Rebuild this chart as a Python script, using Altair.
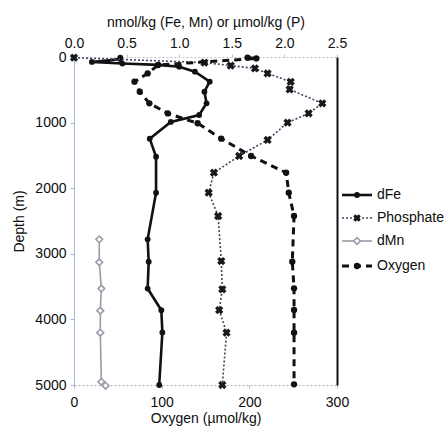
import altair as alt
import pandas as pd

# ---- data ----
fe_depth = [10, 30, 75, 100, 120, 148, 224, 376, 529, 706, 884, 990, 1245, 1520, 2068, 2780, 3120, 3530, 3860, 4200, 5000]
fe_val = [0.44, 0.44, 0.17, 0.46, 0.80, 1.00, 1.15, 1.29, 1.24, 1.26, 1.19, 0.92, 0.72, 0.78, 0.78, 0.70, 0.71, 0.70, 0.83, 0.84, 0.81]

p_depth = [10, 85, 130, 175, 250, 378, 495, 706, 859, 1001, 1265, 1509, 1764, 2068, 2424, 3110, 3541, 3857, 4202, 5000]
p_val = [0.00, 1.24, 1.49, 1.72, 1.84, 2.06, 2.05, 2.36, 2.23, 2.03, 1.84, 1.57, 1.33, 1.28, 1.37, 1.40, 1.41, 1.38, 1.45, 1.41]

mn_depth = [2780, 3130, 3530, 3867, 4202, 4950, 5010]
mn_val = [0.24, 0.24, 0.26, 0.25, 0.25, 0.26, 0.30]

o2_depth = [10, 22, 122, 250, 376, 530, 706, 860, 1010, 1245, 1509, 1764, 2068, 2424, 3120, 3526, 3857, 4202, 4990]
o2_val = [198, 208, 96, 84, 69, 75, 86, 107, 141, 168, 202, 242, 245, 251, 249, 251, 251, 251, 251]

top_ticks = [0, 0.5, 1.0, 1.5, 2.0, 2.5]
bottom_ticks = [0, 100, 200, 300]
depth_ticks = [0, 1000, 2000, 3000, 4000, 5000]

legend_labels = ["dFe", "Phosphate", "dMn", "Oxygen"]


def frame(depth, val):
    return pd.DataFrame({"depth": depth, "val": val, "seq": list(range(len(depth)))})


W, H = 263, 328
FONT = "Liberation Sans"
TXT = "#0d0d0d"
FS = 14

common_axis = dict(labelFont=FONT, titleFont=FONT, labelFontSize=FS, titleFontSize=FS,
                   labelColor=TXT, titleColor=TXT, titleFontWeight="normal", grid=False,
                   labelFlush=False)

xtop = alt.X(
    "val:Q",
    scale=alt.Scale(domain=[0, 2.5], nice=False, zero=False),
    axis=alt.Axis(
        orient="top", values=top_ticks, format=".1f",
        title="nmol/kg (Fe, Mn) or µmol/kg (P)",
        domainColor="#c0c0c0", domainDash=[2, 2], tickColor="#c0c0c0",
        tickSize=3, labelPadding=4, titlePadding=7, **common_axis,
    ),
)
yleft = alt.Y(
    "depth:Q",
    scale=alt.Scale(domain=[0, 5000], reverse=True, nice=False, zero=False),
    axis=alt.Axis(
        orient="left", values=depth_ticks, format="d", title="Depth (m)",
        domainColor="#a9b8d6", tickColor="#a9b8d6", tickSize=4,
        labelPadding=4, titlePadding=8, **common_axis,
    ),
)

fe = frame(fe_depth, fe_val)
ph = frame(p_depth, p_val)
mn = frame(mn_depth, mn_val)
o2 = frame(o2_depth, o2_val)

enc = dict(x=xtop, y=yleft, order="seq:Q")

fe_line = alt.Chart(fe).mark_line(color="#111111", strokeWidth=2.6).encode(**enc)
fe_pts = alt.Chart(fe).mark_point(shape="circle", filled=True, color="#111111", size=34, opacity=1).encode(x=xtop, y=yleft)

ph_line = alt.Chart(ph).mark_line(color="#3b4863", strokeWidth=1.6, strokeDash=[2, 2]).encode(**enc)
ph_pts = alt.Chart(ph).mark_point(shape="cross", angle=45, filled=True, color="#1a1a1a", size=70, opacity=1).encode(x=xtop, y=yleft)

mn_line = alt.Chart(mn).mark_line(color="#9a9ca8", strokeWidth=1.6).encode(**enc)
mn_pts = alt.Chart(mn).mark_point(shape="diamond", filled=True, fill="white", stroke="#9a9ca8", strokeWidth=1.6, size=45, opacity=1).encode(x=xtop, y=yleft)

nmol = alt.layer(fe_line, fe_pts, ph_line, ph_pts, mn_line, mn_pts)

xbot = alt.X(
    "val:Q",
    scale=alt.Scale(domain=[0, 300], nice=False, zero=False),
    axis=alt.Axis(
        orient="bottom", values=bottom_ticks, title="Oxygen (µmol/kg)",
        domainColor="#b0b0b0", domainDash=[2, 2], tickColor="#b0b0b0",
        tickSize=3, labelPadding=7, titlePadding=2, **common_axis,
    ),
)
yright = alt.Y(
    "depth:Q",
    scale=alt.Scale(domain=[0, 5000], reverse=True, nice=False, zero=False),
    axis=alt.Axis(orient="right", labels=False, ticks=False, title=None, grid=False,
                  domainColor="#111111", domainWidth=2),
)
o2_line = alt.Chart(o2).mark_line(color="#111111", strokeWidth=3, strokeDash=[7, 5]).encode(x=xbot, y=yright, order="seq:Q")
o2_pts = alt.Chart(o2).mark_point(shape="circle", filled=True, color="#111111", size=40, opacity=1).encode(x=xbot, y=yright)
oxy = alt.layer(o2_line, o2_pts)

# ---- legend (drawn beside the plot) ----
one = pd.DataFrame({"k": [0]})
LX0, LX1, LXM, LXT = 268, 298, 283, 303
LY = [138, 161, 184, 209]
styles = [
    (dict(color="#111111", strokeWidth=2.6), dict(shape="circle", filled=True, color="#111111", size=34)),
    (dict(color="#3b4863", strokeWidth=1.6, strokeDash=[2, 2]), dict(shape="cross", angle=45, filled=True, color="#1a1a1a", size=60)),
    (dict(color="#9a9ca8", strokeWidth=1.6), dict(shape="diamond", filled=True, fill="white", stroke="#9a9ca8", strokeWidth=1.6, size=45)),
    (dict(color="#111111", strokeWidth=3, strokeDash=[7, 5]), dict(shape="circle", filled=True, color="#111111", size=40)),
]
legend_layers = []
for label, ly, (ls, ps) in zip(legend_labels, LY, styles):
    legend_layers.append(alt.Chart(one).mark_rule(**ls).encode(
        x=alt.value(LX0), x2=alt.value(LX1), y=alt.value(ly)))
    legend_layers.append(alt.Chart(one).mark_point(opacity=1, **ps).encode(
        x=alt.value(LXM), y=alt.value(ly)))
    legend_layers.append(alt.Chart(one).mark_text(
        align="left", baseline="middle", font=FONT, fontSize=FS, color=TXT).encode(
        x=alt.value(LXT), y=alt.value(ly), text=alt.value(label)))
legend = alt.layer(*legend_layers)

chart = (
    alt.layer(nmol, oxy, legend)
    .resolve_scale(x="independent", y="independent")
    .properties(
        width=W, height=H, background="white",
        padding={"left": 74, "top": 57, "right": 446 - 74 - W, "bottom": 434 - 57 - H},
        autosize=alt.AutoSizeParams(type="none"),
    )
    .configure_view(stroke=None)
)

chart.save("out.html", embed_options={"renderer": "svg", "actions": False})
